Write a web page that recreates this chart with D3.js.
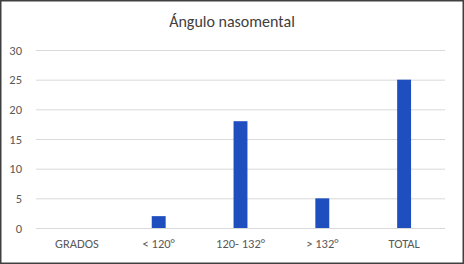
<!DOCTYPE html>
<html><head><meta charset="utf-8">
<script src="https://cdn.jsdelivr.net/npm/d3@7"></script>
<style>
html,body{margin:0;padding:0;background:#fff;}
svg{display:block;}
</style></head>
<body>
<svg id="c" width="464" height="264"></svg>
<script>
const title = "Ángulo nasomental";
const categories = ["GRADOS", "< 120°", "120- 132°", "> 132°", "TOTAL"];
const values = [0, 2, 18, 5, 25];
const yTicks = [0, 5, 10, 15, 20, 25, 30];

const svg = d3.select("#c");
const W = 464, H = 264;
const m = {left: 36, right: 19, top: 50, bottom: 36};

svg.append("rect").attr("x", 0.75).attr("y", 0.75).attr("width", W - 1.5).attr("height", H - 1.5)
  .attr("fill", "#fff").attr("stroke", "#404040").attr("stroke-width", 1.5);

const x = d3.scaleBand().domain(categories).range([m.left, W - m.right]).paddingInner(0.83).paddingOuter(0.415);
const y = d3.scaleLinear().domain([0, 30]).range([H - m.bottom, m.top]);

const font = "Calibri, Carlito, Lato, 'Liberation Sans', sans-serif";

svg.append("text").attr("x", W / 2).attr("y", 27).attr("text-anchor", "middle")
  .attr("font-family", font).attr("font-size", 16).attr("fill", "#404040").text(title);

const ya = svg.append("g").attr("transform", `translate(${m.left},0)`)
  .call(d3.axisLeft(y).tickValues(yTicks).tickSize(-(W - m.left - m.right)).tickPadding(14));
ya.select(".domain").remove();
ya.selectAll(".tick line").attr("stroke", "#d9d9d9").attr("stroke-width", 1);
ya.selectAll(".tick text").attr("font-family", font).attr("font-size", 12.5).attr("fill", "#595959");

const xa = svg.append("g").attr("transform", `translate(0,${H - m.bottom})`)
  .call(d3.axisBottom(x).tickSize(0).tickPadding(11));
xa.select(".domain").remove();
xa.selectAll(".tick text").attr("font-family", font).attr("font-size", 12.5).attr("fill", "#595959");

svg.append("g").selectAll("rect").data(values).join("rect")
  .attr("x", (d, i) => x(categories[i]))
  .attr("width", x.bandwidth())
  .attr("y", d => y(d))
  .attr("height", d => y(0) - y(d))
  .attr("fill", "#1f4fbf");
</script>
</body></html>
